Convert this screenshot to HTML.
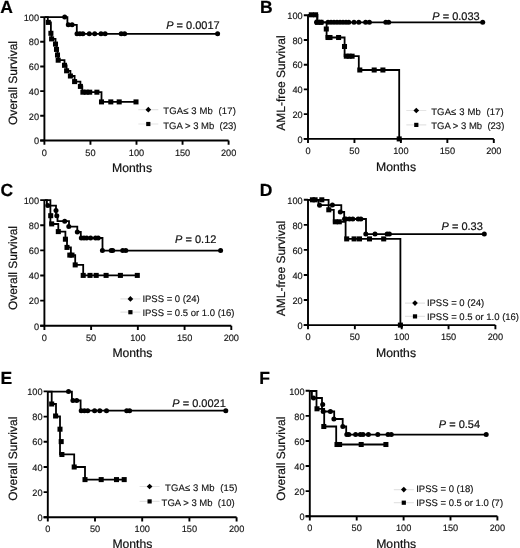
<!DOCTYPE html>
<html><head><meta charset="utf-8"><style>
html,body{margin:0;padding:0;background:#fff;}
body{width:520px;height:548px;overflow:hidden;}
svg{display:block;font-family:"Liberation Sans", sans-serif;will-change:transform;text-rendering:geometricPrecision;}
text{stroke:#000;stroke-width:0.2px;paint-order:stroke;}
.tk,.lgt{stroke-width:0.14px;}
.ax{stroke:#000;stroke-width:1.9;fill:none;stroke-linecap:butt;}
.cv{stroke:#000;stroke-width:1.8;fill:none;stroke-linejoin:miter;}
.mk{fill:#000;}
.lg{stroke:#e4e4e4;stroke-width:1.2;fill:none;}
.tk{font-size:9.2px;fill:#111;}
.lt{font-size:17.5px;font-weight:bold;fill:#000;}
.yl{font-size:12px;fill:#111;}
.ml{font-size:12.2px;fill:#111;}
.pv{font-size:11px;fill:#111;}
.lgt{font-size:9.5px;fill:#111;}
</style></head><body>
<svg width="520" height="548" viewBox="0 0 520 548">
<rect width="520" height="548" fill="#fff"/>
<g id="pA"><path class="ax" d="M44.4,17.1 V140.5 M40.2,140.5 H228.6"/>
<path class="ax" d="M40.2,140.5 H44.4 M40.2,115.82 H44.4 M40.2,91.14 H44.4 M40.2,66.46 H44.4 M40.2,41.78 H44.4 M40.2,17.1 H44.4 M44.4,140.5 V144.7 M90.45,140.5 V144.7 M136.5,140.5 V144.7 M182.55,140.5 V144.7 M228.6,140.5 V144.7"/>
<text class="tk" x="39.1" y="144.2" text-anchor="end">0</text>
<text class="tk" x="39.1" y="119.52" text-anchor="end">20</text>
<text class="tk" x="39.1" y="94.84" text-anchor="end">40</text>
<text class="tk" x="39.1" y="70.16" text-anchor="end">60</text>
<text class="tk" x="39.1" y="45.48" text-anchor="end">80</text>
<text class="tk" x="39.1" y="20.8" text-anchor="end">100</text>
<text class="tk" x="44.4" y="155.6" text-anchor="middle">0</text>
<text class="tk" x="90.45" y="155.6" text-anchor="middle">50</text>
<text class="tk" x="136.5" y="155.6" text-anchor="middle">100</text>
<text class="tk" x="182.55" y="155.6" text-anchor="middle">150</text>
<text class="tk" x="228.6" y="155.6" text-anchor="middle">200</text>
<path class="cv" d="M44.4,17.1 H67.4 V24.8 H76.8 V33.8 H217.6"/>
<g class="mk"><circle cx="64.7" cy="17.1" r="2.5"/><circle cx="68.3" cy="24.8" r="2.5"/><circle cx="72.1" cy="24.8" r="2.5"/><circle cx="77" cy="33.8" r="2.5"/><circle cx="79.9" cy="33.8" r="2.5"/><circle cx="82.9" cy="33.8" r="2.5"/><circle cx="89.3" cy="33.8" r="2.5"/><circle cx="94.7" cy="33.8" r="2.5"/><circle cx="101" cy="33.8" r="2.5"/><circle cx="105.1" cy="33.8" r="2.5"/><circle cx="121.2" cy="33.8" r="2.5"/><circle cx="124.6" cy="33.8" r="2.5"/><circle cx="217.6" cy="33.8" r="2.5"/></g>
<path class="cv" d="M44.4,17.1 H47.8 V22.5 H50.9 V33.2 H51.6 V38.8 H55.5 V44.1 H56.5 V49.4 H57.5 V55 H58.2 V60.2 H64.5 V65.3 H66.6 V70.8 H70.4 V76 H74.6 V81.6 H80.4 V86.4 H82.3 V92.2 H101.5 V101.9 H136"/>
<g class="mk"><rect x="45.78" y="19.88" width="5.04" height="5.04"/><rect x="48.38" y="30.78" width="5.04" height="5.04"/><rect x="49.08" y="36.38" width="5.04" height="5.04"/><rect x="52.98" y="41.58" width="5.04" height="5.04"/><rect x="53.98" y="46.88" width="5.04" height="5.04"/><rect x="54.98" y="52.48" width="5.04" height="5.04"/><rect x="55.68" y="57.68" width="5.04" height="5.04"/><rect x="61.98" y="62.78" width="5.04" height="5.04"/><rect x="64.08" y="68.28" width="5.04" height="5.04"/><rect x="67.88" y="73.48" width="5.04" height="5.04"/><rect x="72.08" y="79.08" width="5.04" height="5.04"/><rect x="77.88" y="83.88" width="5.04" height="5.04"/><rect x="80.38" y="89.68" width="5.04" height="5.04"/><rect x="83.68" y="89.68" width="5.04" height="5.04"/><rect x="87.18" y="89.68" width="5.04" height="5.04"/><rect x="94.38" y="89.68" width="5.04" height="5.04"/><rect x="98.98" y="99.38" width="5.04" height="5.04"/><rect x="108.28" y="99.38" width="5.04" height="5.04"/><rect x="116.68" y="99.38" width="5.04" height="5.04"/><rect x="133.48" y="99.38" width="5.04" height="5.04"/></g>
<text class="lt" x="0.2" y="12.6">A</text>
<text class="yl" transform="translate(17,83) rotate(-90)" text-anchor="middle">Overall Survival</text>
<text class="ml" x="132" y="171.7" text-anchor="middle">Months</text>
<text class="pv" x="166.2" y="28.8"><tspan font-style="italic">P</tspan> = 0.0017</text>
<path class="lg" d="M138.3,109.7 H158.3 M138.3,124 H158.3"/>
<g class="mk"><path d="M148.3,106.87 L151.14,109.7 L148.3,112.53 L145.47,109.7 Z"/><rect x="146.2" y="121.9" width="4.2" height="4.2"/></g>
<text class="lgt" x="163.3" y="113.9" letter-spacing="0.13">TGA≤ 3 Mb  (17)</text>
<text class="lgt" x="163.3" y="128.6">TGA &gt; 3 Mb  (23)</text></g>
<g id="pB"><path class="ax" d="M308,15.2 V138.9 M303.8,138.9 H493.8"/>
<path class="ax" d="M303.8,138.9 H308 M303.8,114.16 H308 M303.8,89.42 H308 M303.8,64.68 H308 M303.8,39.94 H308 M303.8,15.2 H308 M308,138.9 V143.1 M354.45,138.9 V143.1 M400.9,138.9 V143.1 M447.35,138.9 V143.1 M493.8,138.9 V143.1"/>
<text class="tk" x="302.7" y="142.6" text-anchor="end">0</text>
<text class="tk" x="302.7" y="117.86" text-anchor="end">20</text>
<text class="tk" x="302.7" y="93.12" text-anchor="end">40</text>
<text class="tk" x="302.7" y="68.38" text-anchor="end">60</text>
<text class="tk" x="302.7" y="43.64" text-anchor="end">80</text>
<text class="tk" x="302.7" y="18.9" text-anchor="end">100</text>
<text class="tk" x="308" y="154" text-anchor="middle">0</text>
<text class="tk" x="354.45" y="154" text-anchor="middle">50</text>
<text class="tk" x="400.9" y="154" text-anchor="middle">100</text>
<text class="tk" x="447.35" y="154" text-anchor="middle">150</text>
<text class="tk" x="493.8" y="154" text-anchor="middle">200</text>
<path class="cv" d="M308,14.8 H317.3 V22.3 H482.7"/>
<g class="mk"><circle cx="316.5" cy="22.3" r="2.5"/><circle cx="321.3" cy="22.3" r="2.5"/><circle cx="328" cy="22.3" r="2.5"/><circle cx="331" cy="22.3" r="2.5"/><circle cx="334" cy="22.3" r="2.5"/><circle cx="337" cy="22.3" r="2.5"/><circle cx="340" cy="22.3" r="2.5"/><circle cx="343" cy="22.3" r="2.5"/><circle cx="346" cy="22.3" r="2.5"/><circle cx="348.8" cy="22.3" r="2.5"/><circle cx="354" cy="22.3" r="2.5"/><circle cx="358.8" cy="22.3" r="2.5"/><circle cx="365.6" cy="22.3" r="2.5"/><circle cx="369.4" cy="22.3" r="2.5"/><circle cx="385.8" cy="22.3" r="2.5"/><circle cx="388.7" cy="22.3" r="2.5"/><circle cx="482.7" cy="22.3" r="2.5"/></g>
<path class="cv" d="M308,14.8 H317.3 V22.3 H326.6 V37.5 H344.6 V56.2 H358.8 V70 H399.2 V138.9"/>
<g class="mk"><rect x="308.78" y="12.28" width="5.04" height="5.04"/><rect x="313.08" y="12.28" width="5.04" height="5.04"/><rect x="314.98" y="19.78" width="5.04" height="5.04"/><rect x="318.48" y="19.78" width="5.04" height="5.04"/><rect x="323.78" y="26.48" width="5.04" height="5.04"/><rect x="325.48" y="34.98" width="5.04" height="5.04"/><rect x="327.48" y="34.98" width="5.04" height="5.04"/><rect x="336.08" y="34.98" width="5.04" height="5.04"/><rect x="341.98" y="43.98" width="5.04" height="5.04"/><rect x="343.78" y="53.68" width="5.04" height="5.04"/><rect x="346.68" y="53.68" width="5.04" height="5.04"/><rect x="349.58" y="53.68" width="5.04" height="5.04"/><rect x="357.28" y="67.48" width="5.04" height="5.04"/><rect x="371.68" y="67.48" width="5.04" height="5.04"/><rect x="380.38" y="67.48" width="5.04" height="5.04"/><rect x="396.68" y="136.38" width="5.04" height="5.04"/></g>
<text class="lt" x="260" y="12.5">B</text>
<text class="yl" transform="translate(284.5,83.1) rotate(-90)" text-anchor="middle">AML-free Survival</text>
<text class="ml" x="396" y="171.3" text-anchor="middle">Months</text>
<text class="pv" x="432.3" y="19.6"><tspan font-style="italic">P</tspan> = 0.033</text>
<path class="lg" d="M406.3,110.5 H426.3 M406.3,124.9 H426.3"/>
<g class="mk"><path d="M416.3,107.67 L419.13,110.5 L416.3,113.33 L413.47,110.5 Z"/><rect x="414.2" y="122.8" width="4.2" height="4.2"/></g>
<text class="lgt" x="431.2" y="114.8" letter-spacing="0.13">TGA≤ 3 Mb  (17)</text>
<text class="lgt" x="431.2" y="129.2">TGA &gt; 3 Mb  (23)</text></g>
<g id="pC"><path class="ax" d="M44.4,200.1 V325.8 M40.2,325.8 H231.3"/>
<path class="ax" d="M40.2,325.8 H44.4 M40.2,300.66 H44.4 M40.2,275.52 H44.4 M40.2,250.38 H44.4 M40.2,225.24 H44.4 M40.2,200.1 H44.4 M44.4,325.8 V330 M91.12,325.8 V330 M137.85,325.8 V330 M184.58,325.8 V330 M231.3,325.8 V330"/>
<text class="tk" x="39.1" y="329.5" text-anchor="end">0</text>
<text class="tk" x="39.1" y="304.36" text-anchor="end">20</text>
<text class="tk" x="39.1" y="279.22" text-anchor="end">40</text>
<text class="tk" x="39.1" y="254.08" text-anchor="end">60</text>
<text class="tk" x="39.1" y="228.94" text-anchor="end">80</text>
<text class="tk" x="39.1" y="203.8" text-anchor="end">100</text>
<text class="tk" x="44.4" y="340.9" text-anchor="middle">0</text>
<text class="tk" x="91.12" y="340.9" text-anchor="middle">50</text>
<text class="tk" x="137.85" y="340.9" text-anchor="middle">100</text>
<text class="tk" x="184.58" y="340.9" text-anchor="middle">150</text>
<text class="tk" x="231.3" y="340.9" text-anchor="middle">200</text>
<path class="cv" d="M44.4,200.2 H46.9 V205.6 H56 V215.7 H57.5 V221.2 H69 V226.6 H77.3 V232 H80.8 V238 H102.5 V250.6 H220.6"/>
<g class="mk"><circle cx="47.8" cy="205.6" r="2.5"/><circle cx="56" cy="210.4" r="2.5"/><circle cx="56.8" cy="215.7" r="2.5"/><circle cx="64.7" cy="221.2" r="2.5"/><circle cx="68.8" cy="226.6" r="2.5"/><circle cx="77.3" cy="232.1" r="2.5"/><circle cx="81.3" cy="238" r="2.5"/><circle cx="84" cy="238" r="2.5"/><circle cx="86.7" cy="238" r="2.5"/><circle cx="90.6" cy="238" r="2.5"/><circle cx="95.5" cy="238" r="2.5"/><circle cx="98.2" cy="238" r="2.5"/><circle cx="102.4" cy="250.6" r="2.5"/><circle cx="111.2" cy="250.6" r="2.5"/><circle cx="112.7" cy="250.6" r="2.5"/><circle cx="122.7" cy="250.6" r="2.5"/><circle cx="125.8" cy="250.6" r="2.5"/><circle cx="220.6" cy="250.6" r="2.5"/></g>
<path class="cv" d="M44.4,200.2 H50.4 V224 H58.3 V231.6 H65.4 V239.2 H67 V247.4 H70.9 V255.1 H75.2 V264.9 H83.2 V275.4 H137.3"/>
<g class="mk"><rect x="48.18" y="213.18" width="5.04" height="5.04"/><rect x="49.18" y="221.38" width="5.04" height="5.04"/><rect x="55.78" y="229.08" width="5.04" height="5.04"/><rect x="62.88" y="236.68" width="5.04" height="5.04"/><rect x="64.48" y="244.88" width="5.04" height="5.04"/><rect x="67.28" y="252.58" width="5.04" height="5.04"/><rect x="69.48" y="252.58" width="5.04" height="5.04"/><rect x="72.68" y="262.38" width="5.04" height="5.04"/><rect x="80.68" y="272.88" width="5.04" height="5.04"/><rect x="87.48" y="272.88" width="5.04" height="5.04"/><rect x="93.68" y="272.88" width="5.04" height="5.04"/><rect x="103.58" y="272.88" width="5.04" height="5.04"/><rect x="117.88" y="272.88" width="5.04" height="5.04"/><rect x="134.78" y="272.88" width="5.04" height="5.04"/></g>
<text class="lt" x="0.4" y="196.1">C</text>
<text class="yl" transform="translate(17,268) rotate(-90)" text-anchor="middle">Overall Survival</text>
<text class="ml" x="132.4" y="357.3" text-anchor="middle">Months</text>
<text class="pv" x="175.1" y="243.2"><tspan font-style="italic">P</tspan> = 0.12</text>
<path class="lg" d="M120.4,298.9 H140.4 M120.4,312.2 H140.4"/>
<g class="mk"><path d="M130.4,296.06 L133.24,298.9 L130.4,301.73 L127.57,298.9 Z"/><rect x="128.3" y="310.1" width="4.2" height="4.2"/></g>
<text class="lgt" x="142.4" y="301.9">IPSS = 0 (24)</text>
<text class="lgt" x="142.4" y="315.8">IPSS = 0.5 or 1.0 (16)</text></g>
<g id="pD"><path class="ax" d="M308,199.8 V325.1 M303.8,325.1 H495.4"/>
<path class="ax" d="M303.8,325.1 H308 M303.8,300.04 H308 M303.8,274.98 H308 M303.8,249.92 H308 M303.8,224.86 H308 M303.8,199.8 H308 M308,325.1 V329.3 M354.85,325.1 V329.3 M401.7,325.1 V329.3 M448.55,325.1 V329.3 M495.4,325.1 V329.3"/>
<text class="tk" x="302.7" y="328.8" text-anchor="end">0</text>
<text class="tk" x="302.7" y="303.74" text-anchor="end">20</text>
<text class="tk" x="302.7" y="278.68" text-anchor="end">40</text>
<text class="tk" x="302.7" y="253.62" text-anchor="end">60</text>
<text class="tk" x="302.7" y="228.56" text-anchor="end">80</text>
<text class="tk" x="302.7" y="203.5" text-anchor="end">100</text>
<text class="tk" x="308" y="340.2" text-anchor="middle">0</text>
<text class="tk" x="354.85" y="340.2" text-anchor="middle">50</text>
<text class="tk" x="401.7" y="340.2" text-anchor="middle">100</text>
<text class="tk" x="448.55" y="340.2" text-anchor="middle">150</text>
<text class="tk" x="495.4" y="340.2" text-anchor="middle">200</text>
<path class="cv" d="M308,199.8 H318.5 V205.1 H341.3 V212 H344.2 V219 H366 V234.1 H484.3"/>
<g class="mk"><circle cx="319.6" cy="205.2" r="2.5"/><circle cx="332.4" cy="205.1" r="2.5"/><circle cx="340.3" cy="212" r="2.5"/><circle cx="344.5" cy="219" r="2.5"/><circle cx="346" cy="219" r="2.5"/><circle cx="349.4" cy="219" r="2.5"/><circle cx="352.8" cy="219" r="2.5"/><circle cx="358.2" cy="219" r="2.5"/><circle cx="360.9" cy="219" r="2.5"/><circle cx="365.8" cy="234.1" r="2.5"/><circle cx="375" cy="234.1" r="2.5"/><circle cx="387.1" cy="234.1" r="2.5"/><circle cx="389.4" cy="234.1" r="2.5"/><circle cx="484.3" cy="234.1" r="2.5"/></g>
<path class="cv" d="M308,199.8 H328.6 V209.8 H333.8 V221.8 H345.6 V238.9 H400.4 V325.1"/>
<g class="mk"><rect x="309.88" y="197.28" width="5.04" height="5.04"/><rect x="312.58" y="197.28" width="5.04" height="5.04"/><rect x="319.28" y="197.28" width="5.04" height="5.04"/><rect x="326.28" y="207.28" width="5.04" height="5.04"/><rect x="332.78" y="219.28" width="5.04" height="5.04"/><rect x="336.78" y="219.28" width="5.04" height="5.04"/><rect x="344.18" y="236.38" width="5.04" height="5.04"/><rect x="351.58" y="236.38" width="5.04" height="5.04"/><rect x="356.98" y="236.38" width="5.04" height="5.04"/><rect x="366.98" y="236.38" width="5.04" height="5.04"/><rect x="381.18" y="236.38" width="5.04" height="5.04"/><rect x="397.88" y="322.58" width="5.04" height="5.04"/></g>
<text class="lt" x="259.7" y="196.4">D</text>
<text class="yl" transform="translate(284.5,268.6) rotate(-90)" text-anchor="middle">AML-free Survival</text>
<text class="ml" x="396" y="357.3" text-anchor="middle">Months</text>
<text class="pv" x="441.5" y="229.7"><tspan font-style="italic">P</tspan> = 0.33</text>
<path class="lg" d="M405,303.1 H425 M405,316.4 H425"/>
<g class="mk"><path d="M415,300.27 L417.83,303.1 L415,305.94 L412.17,303.1 Z"/><rect x="412.9" y="314.3" width="4.2" height="4.2"/></g>
<text class="lgt" x="426.9" y="306">IPSS = 0 (24)</text>
<text class="lgt" x="426.9" y="320">IPSS = 0.5 or 1.0 (16)</text></g>
<g id="pE"><path class="ax" d="M47.8,391.4 V517.3 M43.6,517.3 H236.6"/>
<path class="ax" d="M43.6,517.3 H47.8 M43.6,492.12 H47.8 M43.6,466.94 H47.8 M43.6,441.76 H47.8 M43.6,416.58 H47.8 M43.6,391.4 H47.8 M47.8,517.3 V521.5 M95,517.3 V521.5 M142.2,517.3 V521.5 M189.4,517.3 V521.5 M236.6,517.3 V521.5"/>
<text class="tk" x="42.5" y="521" text-anchor="end">0</text>
<text class="tk" x="42.5" y="495.82" text-anchor="end">20</text>
<text class="tk" x="42.5" y="470.64" text-anchor="end">40</text>
<text class="tk" x="42.5" y="445.46" text-anchor="end">60</text>
<text class="tk" x="42.5" y="420.28" text-anchor="end">80</text>
<text class="tk" x="42.5" y="395.1" text-anchor="end">100</text>
<text class="tk" x="47.8" y="532.4" text-anchor="middle">0</text>
<text class="tk" x="95" y="532.4" text-anchor="middle">50</text>
<text class="tk" x="142.2" y="532.4" text-anchor="middle">100</text>
<text class="tk" x="189.4" y="532.4" text-anchor="middle">150</text>
<text class="tk" x="236.6" y="532.4" text-anchor="middle">200</text>
<path class="cv" d="M47.8,391.6 H71.9 V400.5 H80.6 V410.7 H225.8"/>
<g class="mk"><circle cx="68.5" cy="391.6" r="2.5"/><circle cx="72.9" cy="400.5" r="2.5"/><circle cx="76.7" cy="400.5" r="2.5"/><circle cx="81.2" cy="410.7" r="2.5"/><circle cx="84.4" cy="410.7" r="2.5"/><circle cx="87.7" cy="410.7" r="2.5"/><circle cx="94.6" cy="410.7" r="2.5"/><circle cx="99.8" cy="410.7" r="2.5"/><circle cx="106.5" cy="410.7" r="2.5"/><circle cx="126.7" cy="410.7" r="2.5"/><circle cx="129.6" cy="410.7" r="2.5"/><circle cx="225.8" cy="410.7" r="2.5"/></g>
<path class="cv" d="M47.8,391.6 H51.7 V404 H56 V416.5 H60 V454.4 H74.2 V467 H85 V479.6 H124.2"/>
<g class="mk"><rect x="49.18" y="401.48" width="5.04" height="5.04"/><rect x="53.08" y="413.48" width="5.04" height="5.04"/><rect x="57.48" y="426.68" width="5.04" height="5.04"/><rect x="58.68" y="439.08" width="5.04" height="5.04"/><rect x="59.38" y="451.98" width="5.04" height="5.04"/><rect x="71.68" y="464.48" width="5.04" height="5.04"/><rect x="82.48" y="477.08" width="5.04" height="5.04"/><rect x="98.68" y="477.08" width="5.04" height="5.04"/><rect x="113.98" y="477.08" width="5.04" height="5.04"/><rect x="121.68" y="477.08" width="5.04" height="5.04"/></g>
<text class="lt" x="0.4" y="383.6">E</text>
<text class="yl" transform="translate(17,458.7) rotate(-90)" text-anchor="middle">Overall Survival</text>
<text class="ml" x="132.4" y="547.7" text-anchor="middle">Months</text>
<text class="pv" x="172.3" y="406.9"><tspan font-style="italic">P</tspan> = 0.0021</text>
<path class="lg" d="M139.6,486.5 H159.6 M139.6,501.4 H159.6"/>
<g class="mk"><path d="M149.6,483.67 L152.44,486.5 L149.6,489.33 L146.76,486.5 Z"/><rect x="147.5" y="499.3" width="4.2" height="4.2"/></g>
<text class="lgt" x="165" y="491.1" letter-spacing="0.13">TGA≤ 3 Mb  (15)</text>
<text class="lgt" x="161.6" y="505.7">TGA &gt; 3 Mb  (10)</text></g>
<g id="pF"><path class="ax" d="M309.8,390.8 V516.2 M305.6,516.2 H497.4"/>
<path class="ax" d="M305.6,516.2 H309.8 M305.6,491.12 H309.8 M305.6,466.04 H309.8 M305.6,440.96 H309.8 M305.6,415.88 H309.8 M305.6,390.8 H309.8 M309.8,516.2 V520.4 M356.7,516.2 V520.4 M403.6,516.2 V520.4 M450.5,516.2 V520.4 M497.4,516.2 V520.4"/>
<text class="tk" x="304.5" y="519.9" text-anchor="end">0</text>
<text class="tk" x="304.5" y="494.82" text-anchor="end">20</text>
<text class="tk" x="304.5" y="469.74" text-anchor="end">40</text>
<text class="tk" x="304.5" y="444.66" text-anchor="end">60</text>
<text class="tk" x="304.5" y="419.58" text-anchor="end">80</text>
<text class="tk" x="304.5" y="394.5" text-anchor="end">100</text>
<text class="tk" x="309.8" y="531.3" text-anchor="middle">0</text>
<text class="tk" x="356.7" y="531.3" text-anchor="middle">50</text>
<text class="tk" x="403.6" y="531.3" text-anchor="middle">100</text>
<text class="tk" x="450.5" y="531.3" text-anchor="middle">150</text>
<text class="tk" x="497.4" y="531.3" text-anchor="middle">200</text>
<path class="cv" d="M309.8,391 H311.9 V398 H322 V411.5 H334.2 V419 H342.7 V426.5 H346.2 V434.6 H486.2"/>
<g class="mk"><circle cx="313.5" cy="398" r="2.5"/><circle cx="322.7" cy="404.5" r="2.5"/><circle cx="323.2" cy="411.5" r="2.5"/><circle cx="330.4" cy="411.5" r="2.5"/><circle cx="333.9" cy="419" r="2.5"/><circle cx="342.8" cy="426.5" r="2.5"/><circle cx="346.8" cy="434.6" r="2.5"/><circle cx="348.8" cy="434.6" r="2.5"/><circle cx="355.6" cy="434.6" r="2.5"/><circle cx="360.3" cy="434.6" r="2.5"/><circle cx="363" cy="434.6" r="2.5"/><circle cx="368.4" cy="434.6" r="2.5"/><circle cx="377.8" cy="434.6" r="2.5"/><circle cx="388" cy="434.6" r="2.5"/><circle cx="391.3" cy="434.6" r="2.5"/><circle cx="486.2" cy="434.6" r="2.5"/></g>
<path class="cv" d="M309.8,391 H316.5 V408.8 H324.2 V426.5 H336.2 V444.5 H385.9"/>
<g class="mk"><rect x="314.48" y="406.28" width="5.04" height="5.04"/><rect x="321.28" y="423.98" width="5.04" height="5.04"/><rect x="334.48" y="441.98" width="5.04" height="5.04"/><rect x="337.08" y="441.98" width="5.04" height="5.04"/><rect x="358.68" y="441.98" width="5.04" height="5.04"/><rect x="383.38" y="441.98" width="5.04" height="5.04"/></g>
<text class="lt" x="259.3" y="383.8">F</text>
<text class="yl" transform="translate(284.5,458.7) rotate(-90)" text-anchor="middle">Overall Survival</text>
<text class="ml" x="396.2" y="547.8" text-anchor="middle">Months</text>
<text class="pv" x="438.8" y="428.2"><tspan font-style="italic">P</tspan> = 0.54</text>
<path class="lg" d="M393.8,489.6 H413.8 M393.8,502.7 H413.8"/>
<g class="mk"><path d="M403.8,486.77 L406.63,489.6 L403.8,492.44 L400.97,489.6 Z"/><rect x="401.7" y="500.6" width="4.2" height="4.2"/></g>
<text class="lgt" x="416.2" y="492.2">IPSS = 0 (18)</text>
<text class="lgt" x="416.2" y="506.4">IPSS = 0.5 or 1.0 (7)</text></g>
</svg>
</body></html>
